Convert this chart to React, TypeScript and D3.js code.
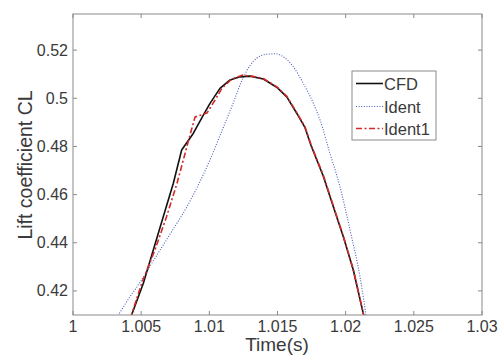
import React from "react";
import * as d3 from "d3";

const xTicks = [1, 1.005, 1.01, 1.015, 1.02, 1.025, 1.03];
const xTickLabels = ["1", "1.005", "1.01", "1.015", "1.02", "1.025", "1.03"];
const yTicks = [0.42, 0.44, 0.46, 0.48, 0.5, 0.52];
const yTickLabels = ["0.42", "0.44", "0.46", "0.48", "0.5", "0.52"];

const cfdT = [1.0042, 1.00516, 1.00589, 1.00662, 1.00736, 1.00797, 1.00882, 1.00956, 1.01005, 1.01078, 1.01152, 1.01225, 1.01298, 1.01396, 1.01494, 1.01568, 1.01641, 1.01702, 1.01746, 1.01836, 1.01909, 1.01983, 1.02056, 1.02129, 1.02145];
const cfdV = [0.4085, 0.4232, 0.437, 0.4508, 0.4647, 0.4785, 0.4854, 0.493, 0.4979, 0.5041, 0.5076, 0.5089, 0.5092, 0.508, 0.5046, 0.5006, 0.4938, 0.4878, 0.4804, 0.4676, 0.4551, 0.4425, 0.4287, 0.4107, 0.407];

const identT = [1.0033, 1.00418, 1.00491, 1.00589, 1.00711, 1.00834, 1.00932, 1.01005, 1.01078, 1.01176, 1.01247, 1.01298, 1.01347, 1.01421, 1.01489, 1.01543, 1.01616, 1.01689, 1.01763, 1.01812, 1.01885, 1.01958, 1.02032, 1.02105, 1.02154];
const identV = [0.4097, 0.4176, 0.4235, 0.4325, 0.4435, 0.4548, 0.4655, 0.4745, 0.4845, 0.4982, 0.5084, 0.5136, 0.5166, 0.5183, 0.5185, 0.5172, 0.5131, 0.5062, 0.4979, 0.491, 0.4771, 0.4633, 0.4453, 0.4259, 0.408];

const ident1T = [1.0042, 1.00504, 1.00601, 1.00686, 1.00763, 1.00822, 1.00858, 1.00895, 1.00983, 1.01042, 1.01093, 1.01166, 1.0124, 1.01313, 1.01396, 1.01494, 1.01568, 1.01641, 1.01702, 1.01746, 1.01836, 1.01909, 1.01983, 1.02056, 1.02129, 1.02145];
const ident1V = [0.4085, 0.4232, 0.437, 0.4508, 0.4647, 0.4771, 0.4847, 0.4922, 0.4939, 0.4993, 0.5042, 0.508, 0.5096, 0.5092, 0.5082, 0.5048, 0.5009, 0.4941, 0.4881, 0.4807, 0.468, 0.4554, 0.4427, 0.4289, 0.4107, 0.407];

const seriesNames = ["CFD", "Ident", "Ident1"];

const W = 502;
const H = 357;
const left = 73;
const right = 482;
const top = 14;
const bottom = 315;

export default function App() {
  const x = d3.scaleLinear().domain([1, 1.03]).range([left, right]);
  const y = d3.scaleLinear().domain([0.41, 0.535]).range([bottom, top]);
  const lineLin = d3
    .line<[number, number]>()
    .x((d) => x(d[0]))
    .y((d) => y(d[1]));
  const lineSmooth = d3
    .line<[number, number]>()
    .x((d) => x(d[0]))
    .y((d) => y(d[1]))
    .curve(d3.curveMonotoneX);

  const cfd = cfdT.map((t, i) => [t, cfdV[i]] as [number, number]);
  const ident = identT.map((t, i) => [t, identV[i]] as [number, number]);
  const ident1 = ident1T.map((t, i) => [t, ident1V[i]] as [number, number]);

  const axisColor = "#8a8a8a";
  const textColor = "#3a3a3a";
  const font = "Arial, 'Liberation Sans', Helvetica, sans-serif";

  const styles = [
    { stroke: "#111", width: 1.6, dash: "none" },
    { stroke: "#4a5cb8", width: 1.1, dash: "1,1.6" },
    { stroke: "#d42a2a", width: 1.6, dash: "6,2.5,2,2.5" },
  ];

  const legX = 352;
  const legY = 71;
  const legW = 84;
  const legH = 69;
  const rowY = [83.5, 106.5, 128.5];

  return (
    <svg
      width={W}
      height={H}
      style={{ position: "absolute", left: 0, top: 0, background: "#fff" }}
      fontFamily={font}
    >
      <rect x={0} y={0} width={W} height={H} fill="#fff" />
      <defs>
        <clipPath id="plotclip">
          <rect x={left} y={top} width={right - left} height={bottom - top} />
        </clipPath>
      </defs>

      <g clipPath="url(#plotclip)" fill="none">
        <path d={lineSmooth(ident) || ""} stroke={styles[1].stroke} strokeWidth={styles[1].width} strokeDasharray={styles[1].dash} />
        <path d={lineLin(cfd) || ""} stroke={styles[0].stroke} strokeWidth={styles[0].width} strokeLinejoin="round" />
        <path d={lineLin(ident1) || ""} stroke={styles[2].stroke} strokeWidth={styles[2].width} strokeDasharray={styles[2].dash} strokeLinejoin="round" />
      </g>

      <rect x={left} y={top} width={right - left} height={bottom - top} fill="none" stroke={axisColor} strokeWidth={1} />

      {xTicks.map((t, i) => (
        <g key={"xt" + i}>
          <line x1={x(t)} x2={x(t)} y1={bottom} y2={bottom - 4} stroke={axisColor} />
          <line x1={x(t)} x2={x(t)} y1={top} y2={top + 4} stroke={axisColor} />
          <text x={x(t)} y={332} textAnchor="middle" fontSize={16} fill={textColor}>
            {xTickLabels[i]}
          </text>
        </g>
      ))}
      {yTicks.map((v, i) => (
        <g key={"yt" + i}>
          <line x1={left} x2={left + 4} y1={y(v)} y2={y(v)} stroke={axisColor} />
          <line x1={right} x2={right - 4} y1={y(v)} y2={y(v)} stroke={axisColor} />
          <text x={68} y={y(v) + 5.5} textAnchor="end" fontSize={16} fill={textColor}>
            {yTickLabels[i]}
          </text>
        </g>
      ))}

      <text x={277} y={351} textAnchor="middle" fontSize={19} fill={textColor}>
        Time(s)
      </text>
      <text
        transform={`translate(32,165) rotate(-90)`}
        textAnchor="middle"
        fontSize={19.5}
        fill={textColor}
      >
        Lift coefficient CL
      </text>

      <rect x={legX} y={legY} width={legW} height={legH} fill="#fff" stroke={axisColor} strokeWidth={1} />
      {seriesNames.map((name, i) => (
        <g key={name}>
          <line
            x1={356}
            x2={383}
            y1={rowY[i]}
            y2={rowY[i]}
            stroke={styles[i].stroke}
            strokeWidth={styles[i].width}
            strokeDasharray={styles[i].dash}
          />
          <text x={384} y={rowY[i] + 6} fontSize={16.5} fill={textColor}>
            {name}
          </text>
        </g>
      ))}
    </svg>
  );
}
